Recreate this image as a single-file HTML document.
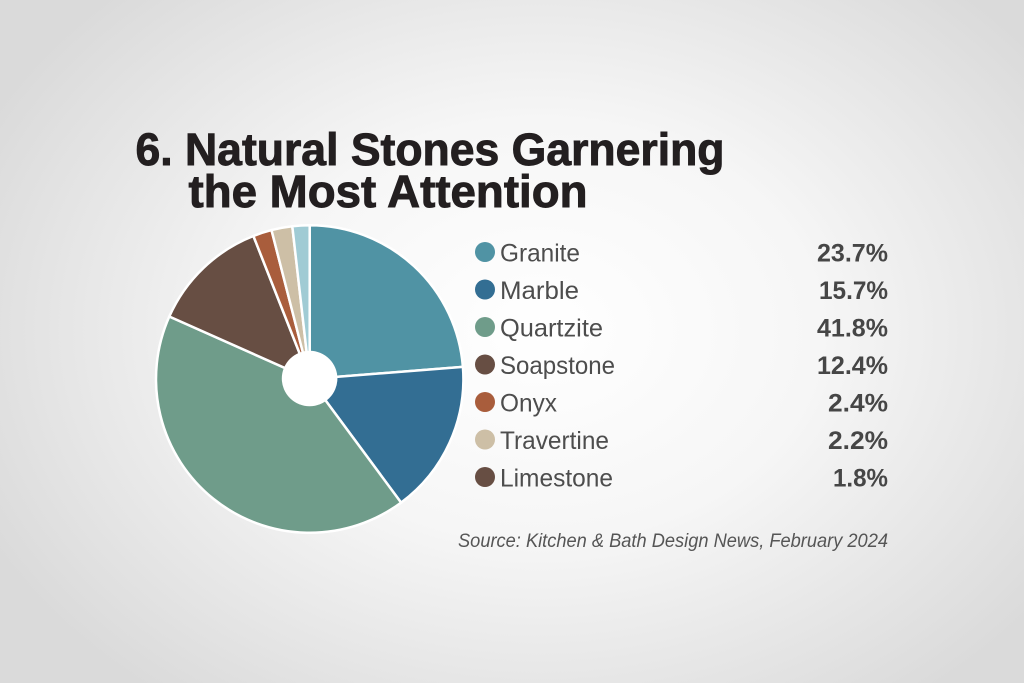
<!DOCTYPE html>
<html>
<head>
<meta charset="utf-8">
<style>
html,body{margin:0;padding:0;width:1024px;height:683px;overflow:hidden;}
svg{display:block;}
</style>
</head>
<body>
<svg width="1024" height="683" viewBox="0 0 1024 683" xmlns="http://www.w3.org/2000/svg">
<defs>
<radialGradient id="bg" cx="540" cy="330" r="620" gradientUnits="userSpaceOnUse" gradientTransform="translate(540 330) scale(1 0.75) translate(-540 -330)">
<stop offset="0" stop-color="#ffffff"/>
<stop offset="0.45" stop-color="#f6f6f6"/>
<stop offset="1" stop-color="#dadada"/>
</radialGradient>
</defs>
<rect x="0" y="0" width="1024" height="683" fill="url(#bg)"/>

<g font-family="'Liberation Sans', sans-serif" font-weight="bold" fill="#231f20" stroke="#231f20" stroke-width="0.9">
<text x="135.5" y="165" font-size="45" textLength="589" lengthAdjust="spacingAndGlyphs">6. Natural Stones Garnering</text>
<text x="188.5" y="207" font-size="45" textLength="399" lengthAdjust="spacingAndGlyphs">the Most Attention</text>
</g>

<g stroke="#ffffff" stroke-width="2.5" stroke-linejoin="round">
<path d="M309.7 379 L309.7 225.3 A153.7 153.7 0 0 1 462.9 366.9 Z" fill="#5093a4"/>
<path d="M309.7 379 L462.9 366.9 A153.7 153.7 0 0 1 401.1 502.6 Z" fill="#336e93"/>
<path d="M309.7 379 L401.1 502.6 A153.7 153.7 0 0 1 169.3 316.5 Z" fill="#6f9c8a"/>
<path d="M309.7 379 L169.3 316.5 A153.7 153.7 0 0 1 253.4 236 Z" fill="#674e43"/>
<path d="M309.7 379 L253.4 236 A153.7 153.7 0 0 1 271.5 230.1 Z" fill="#a95d3c"/>
<path d="M309.7 379 L271.5 230.1 A153.7 153.7 0 0 1 292.3 226.3 Z" fill="#cdbfa6"/>
<path d="M309.7 379 L292.3 226.3 A153.7 153.7 0 0 1 309.7 225.3 Z" fill="#a0cbd4"/>
</g>
<circle cx="309.6" cy="378.5" r="27.8" fill="#ffffff"/>

<g>
<circle cx="485" cy="252" r="10" fill="#5093a4"/>
<circle cx="485" cy="289.5" r="10" fill="#336e93"/>
<circle cx="485" cy="327" r="10" fill="#6f9c8a"/>
<circle cx="485" cy="364.5" r="10" fill="#674e43"/>
<circle cx="485" cy="402" r="10" fill="#a95d3c"/>
<circle cx="485" cy="439.5" r="10" fill="#cdbfa6"/>
<circle cx="485" cy="477" r="10" fill="#674e43"/>
</g>

<g font-family="'Liberation Sans', sans-serif" font-size="25" fill="#4d4d4d">
<text x="500" y="261.5" textLength="80" lengthAdjust="spacingAndGlyphs">Granite</text>
<text x="500" y="299" textLength="79" lengthAdjust="spacingAndGlyphs">Marble</text>
<text x="500" y="336.5" textLength="103" lengthAdjust="spacingAndGlyphs">Quartzite</text>
<text x="500" y="374" textLength="115" lengthAdjust="spacingAndGlyphs">Soapstone</text>
<text x="500" y="411.5" textLength="57" lengthAdjust="spacingAndGlyphs">Onyx</text>
<text x="500" y="449" textLength="109" lengthAdjust="spacingAndGlyphs">Travertine</text>
<text x="500" y="486.5" textLength="113" lengthAdjust="spacingAndGlyphs">Limestone</text>
</g>

<g font-family="'Liberation Sans', sans-serif" font-size="25" font-weight="bold" fill="#464646">
<text x="817" y="261.5" textLength="71" lengthAdjust="spacingAndGlyphs">23.7%</text>
<text x="819" y="299" textLength="69" lengthAdjust="spacingAndGlyphs">15.7%</text>
<text x="817" y="336.5" textLength="71" lengthAdjust="spacingAndGlyphs">41.8%</text>
<text x="817" y="374" textLength="71" lengthAdjust="spacingAndGlyphs">12.4%</text>
<text x="828" y="411.5" textLength="60" lengthAdjust="spacingAndGlyphs">2.4%</text>
<text x="828" y="449" textLength="60" lengthAdjust="spacingAndGlyphs">2.2%</text>
<text x="833" y="486.5" textLength="55" lengthAdjust="spacingAndGlyphs">1.8%</text>
</g>

<text x="458" y="547" font-family="'Liberation Sans', sans-serif" font-size="19" font-style="italic" fill="#555555" textLength="430" lengthAdjust="spacingAndGlyphs">Source: Kitchen &amp; Bath Design News, February 2024</text>
</svg>
</body>
</html>
